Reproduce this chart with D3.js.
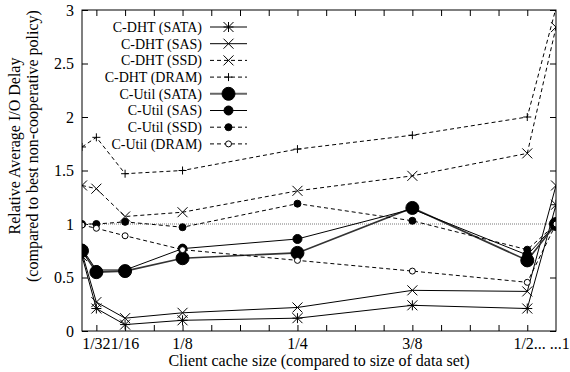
<!DOCTYPE html>
<html>
<head>
<meta charset="utf-8">
<script src="https://cdn.jsdelivr.net/npm/d3@7"></script>
<style>
  html, body { margin: 0; padding: 0; background: #fff; }
  svg { display: block; }
</style>
</head>
<body>
<svg id="chart" width="570" height="372"></svg>
<script>
const FONT = "'Liberation Serif', 'Times New Roman', 'DejaVu Serif', serif";

// x positions (fraction of data set); the last one is drawn as "...1"
const cacheSizes = [1 / 64, 1 / 32, 1 / 16, 1 / 8, 1 / 4, 3 / 8, 1 / 2, 17 / 32];

const dhtSata = [0.70, 0.21, 0.06, 0.10, 0.12, 0.24, 0.21, 1.18];
const dhtSas = [0.73, 0.27, 0.12, 0.17, 0.22, 0.38, 0.37, 1.36];
const dhtSsd = [1.36, 1.33, 1.07, 1.11, 1.31, 1.45, 1.66, 2.84];
const dhtDram = [1.72, 1.81, 1.47, 1.50, 1.70, 1.83, 2.00, 3.02];
const utilSata = [0.75, 0.55, 0.56, 0.68, 0.73, 1.15, 0.66, 1.00];
const utilSas = [0.77, 0.57, 0.57, 0.77, 0.86, 1.14, 0.71, 1.00];
const utilSsd = [1.00, 1.00, 1.02, 0.97, 1.19, 1.03, 0.76, 1.00];
const utilDram = [0.99, 0.96, 0.89, 0.76, 0.66, 0.56, 0.455, 1.00];

const seriesNames = [
  "C-DHT (SATA)", "C-DHT (SAS)", "C-DHT (SSD)", "C-DHT (DRAM)",
  "C-Util (SATA)", "C-Util (SAS)", "C-Util (SSD)", "C-Util (DRAM)"
];
const seriesValues = [dhtSata, dhtSas, dhtSsd, dhtDram, utilSata, utilSas, utilSsd, utilDram];

const xTickLabels = [
  { v: 1 / 32, t: "1/32" },
  { v: 1 / 16, t: "1/16" },
  { v: 1 / 8, t: "1/8" },
  { v: 1 / 4, t: "1/4" },
  { v: 3 / 8, t: "3/8" },
  { v: 33 / 64, t: "1/2... ...1" }
];
const yTicks = [0, 0.5, 1, 1.5, 2, 2.5, 3];
const baseline = 1;

// line + point style per series
const styles = [
  { dash: null, marker: "star", size: 5, stroke: "#000", sw: 1 },
  { dash: null, marker: "cross", size: 5, stroke: "#000", sw: 1 },
  { dash: "4,3", marker: "cross", size: 5, stroke: "#000", sw: 1 },
  { dash: "4,3", marker: "plus", size: 4, stroke: "#000", sw: 1 },
  { dash: null, marker: "dot", size: 6.5, stroke: "#333", sw: 1.6 },
  { dash: null, marker: "dot", size: 4.5, stroke: "#000", sw: 1 },
  { dash: "4,3", marker: "dot", size: 3.5, stroke: "#000", sw: 1 },
  { dash: "4,3", marker: "ring", size: 3, stroke: "#000", sw: 1 }
];

const svg = d3.select("#chart");
const margin = { top: 10, right: 14, bottom: 41, left: 82 };
const width = 570, height = 372;

const x = d3.scaleLinear()
  .domain([1 / 64, 17 / 32])
  .range([margin.left, width - margin.right]);

const y = d3.scaleLinear()
  .domain([0, 3])
  .range([height - margin.bottom, margin.top]);

svg.append("defs").append("clipPath").attr("id", "plotClip")
  .append("rect")
  .attr("x", x.range()[0]).attr("y", y.range()[1])
  .attr("width", x.range()[1] - x.range()[0])
  .attr("height", y.range()[0] - y.range()[1]);

// x ticks every 1/32, inward, bottom and top
const xTickVals = d3.range(1, 17).map((k) => k / 32);

svg.append("g")
  .attr("transform", `translate(0,${y(0)})`)
  .call(d3.axisBottom(x).tickValues(xTickVals).tickSize(-6).tickFormat(""))
  .call((g) => g.select(".domain").remove());

svg.append("g")
  .attr("transform", `translate(0,${y(3)})`)
  .call(d3.axisTop(x).tickValues(xTickVals).tickSize(-6).tickFormat(""))
  .call((g) => g.select(".domain").remove());

svg.append("g")
  .attr("transform", `translate(${x.range()[0]},0)`)
  .call(d3.axisLeft(y).tickValues(yTicks).tickSize(-6).tickPadding(8).tickFormat(d3.format("")))
  .call((g) => g.select(".domain").remove())
  .selectAll("text")
  .attr("fill", "#000")
  .style("font-size", "16px")
  .style("font-family", FONT);

svg.append("g")
  .attr("transform", `translate(${x.range()[1]},0)`)
  .call(d3.axisRight(y).tickValues(yTicks).tickSize(-6).tickFormat(""))
  .call((g) => g.select(".domain").remove());

svg.selectAll(".tick line").attr("stroke", "#000");

svg.append("g")
  .selectAll("text")
  .data(xTickLabels)
  .join("text")
  .attr("x", (d) => x(d.v))
  .attr("y", y(0) + 18)
  .attr("text-anchor", "middle")
  .style("font-size", "16px")
  .style("font-family", FONT)
  .text((d) => d.t);

// reference line at 1
svg.append("line")
  .attr("x1", x.range()[0]).attr("x2", x.range()[1])
  .attr("y1", y(baseline)).attr("y2", y(baseline))
  .attr("stroke", "#777")
  .attr("stroke-width", 1)
  .attr("stroke-dasharray", "1,1");

function markerPath(type, s) {
  if (type === "plus") return `M${-s},0H${s}M0,${-s}V${s}`;
  if (type === "cross") return `M${-s},${-s}L${s},${s}M${-s},${s}L${s},${-s}`;
  if (type === "star") return `M${-s},0H${s}M0,${-s}V${s}M${-s},${-s}L${s},${s}M${-s},${s}L${s},${-s}`;
  return null;
}

function drawMarker(g, st, cx, cy) {
  if (st.marker === "dot" || st.marker === "ring") {
    g.append("circle")
      .attr("cx", cx).attr("cy", cy).attr("r", st.size)
      .attr("fill", st.marker === "dot" ? "#000" : "#fff")
      .attr("stroke", "#000").attr("stroke-width", 1);
  } else {
    g.append("path")
      .attr("transform", `translate(${cx},${cy})`)
      .attr("d", markerPath(st.marker, st.size))
      .attr("fill", "none").attr("stroke", "#000").attr("stroke-width", 1);
  }
}

const line = d3.line()
  .x((d, i) => x(cacheSizes[i]))
  .y((d) => y(d));

const plot = svg.append("g").attr("clip-path", "url(#plotClip)");

seriesValues.forEach((vals, k) => {
  const st = styles[k];
  plot.append("path")
    .datum(vals)
    .attr("d", line)
    .attr("fill", "none")
    .attr("stroke", st.stroke)
    .attr("stroke-width", st.sw)
    .attr("stroke-dasharray", st.dash);
});

seriesValues.forEach((vals, k) => {
  const g = plot.append("g");
  vals.forEach((v, i) => drawMarker(g, styles[k], x(cacheSizes[i]), y(v)));
});

// border
svg.append("rect")
  .attr("x", x.range()[0]).attr("y", y.range()[1])
  .attr("width", x.range()[1] - x.range()[0])
  .attr("height", y.range()[0] - y.range()[1])
  .attr("fill", "none").attr("stroke", "#000").attr("stroke-width", 1);

// legend
const legend = svg.append("g");
seriesNames.forEach((name, k) => {
  const st = styles[k];
  const ly = 27 + k * 16.7;
  legend.append("text")
    .attr("x", 202).attr("y", ly)
    .attr("dy", "0.35em")
    .attr("text-anchor", "end")
    .style("font-size", "14px")
    .style("font-family", FONT)
    .text(name);
  legend.append("line")
    .attr("x1", 210).attr("x2", 247)
    .attr("y1", ly).attr("y2", ly)
    .attr("stroke", k === 4 ? "#666" : st.stroke)
    .attr("stroke-width", k === 4 ? 2 : st.sw)
    .attr("stroke-dasharray", st.dash);
  drawMarker(legend, st, 228.5, ly);
});

// axis titles
svg.append("text")
  .attr("x", (x.range()[0] + x.range()[1]) / 2)
  .attr("y", height - 6)
  .attr("text-anchor", "middle")
  .style("font-size", "16px")
  .style("font-family", FONT)
  .text("Client cache size (compared to size of data set)");

const yTitle = svg.append("text")
  .attr("transform", "translate(0,146) rotate(-90)")
  .attr("text-anchor", "middle")
  .style("font-size", "16px")
  .style("font-family", FONT);
yTitle.append("tspan").attr("x", 0).attr("y", 20).text("Relative Average I/O Delay");
yTitle.append("tspan").attr("x", 0).attr("y", 38).text("(compared to best non-cooperative policy)");
</script>
</body>
</html>
